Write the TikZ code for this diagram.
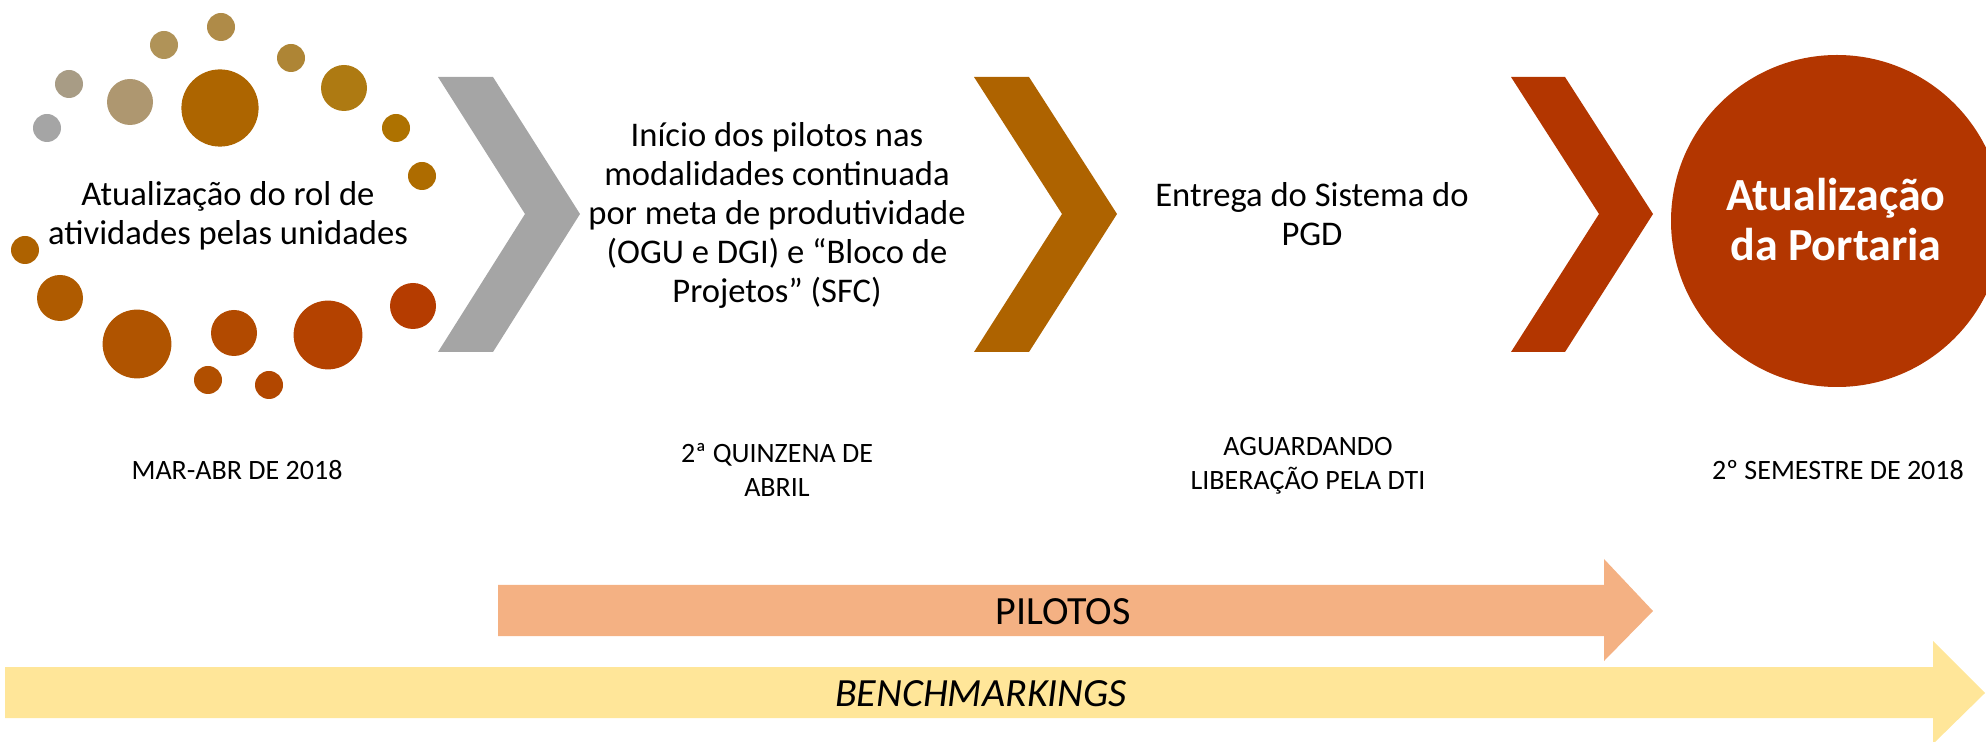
\documentclass[tikz,border=0pt]{standalone}
\usepackage{fontspec}
\setmainfont{Carlito}
\definecolor{cgrey}{HTML}{A5A5A5}
\definecolor{cbrown}{HTML}{AE6300}
\definecolor{cred}{HTML}{B33600}
\definecolor{cpil}{HTML}{F4B183}
\definecolor{cben}{HTML}{FFE699}
\definecolor{d1}{HTML}{A5A5A5}
\definecolor{d2}{HTML}{A89C85}
\definecolor{d3}{HTML}{AE9770}
\definecolor{d4}{HTML}{B09358}
\definecolor{d5}{HTML}{AF8B48}
\definecolor{d6}{HTML}{AD6500}
\definecolor{d7}{HTML}{AE8535}
\definecolor{d8}{HTML}{AE7A12}
\definecolor{d9}{HTML}{AE7200}
\definecolor{d10}{HTML}{AE6C00}
\definecolor{d11}{HTML}{AE6200}
\definecolor{d12}{HTML}{AF5B00}
\definecolor{d13}{HTML}{B05400}
\definecolor{d14}{HTML}{B14F00}
\definecolor{d15}{HTML}{B24A00}
\definecolor{d16}{HTML}{B24700}
\definecolor{d17}{HTML}{B44200}
\definecolor{d18}{HTML}{B53C00}
\begin{document}
\begin{tikzpicture}[x=0.5pt,y=-0.5pt,
  maintext/.style={align=center,inner sep=0pt,text=black,font=\fontsize{17.3}{19.5}\selectfont},
  datetext/.style={align=center,inner sep=0pt,text=black,font=\fontsize{14}{17}\selectfont},
  bartext/.style={inner sep=0pt,text=black,font=\fontsize{20}{24}\selectfont},
  endtext/.style={align=center,inner sep=0pt,text=white,font=\fontsize{23}{25}\selectfont\bfseries}]
\useasboundingbox (0,0) rectangle (1986,742);
% dots
\fill[d1] (47,128) circle[radius=7pt];
\fill[d2] (69,84) circle[radius=7pt];
\fill[d3] (130,102) circle[radius=11.5pt];
\fill[d4] (164,45) circle[radius=7pt];
\fill[d5] (221,27) circle[radius=7pt];
\fill[d6] (220,108) circle[radius=19.3pt];
\fill[d7] (291,58) circle[radius=7pt];
\fill[d8] (344,88) circle[radius=11.5pt];
\fill[d9] (396,128) circle[radius=7pt];
\fill[d10] (422,176) circle[radius=7pt];
\fill[d11] (25,250) circle[radius=7pt];
\fill[d12] (60,298) circle[radius=11.5pt];
\fill[d13] (137,344) circle[radius=17.2pt];
\fill[d14] (208,380) circle[radius=7pt];
\fill[d15] (234,333) circle[radius=11.5pt];
\fill[d16] (269,385) circle[radius=7pt];
\fill[d17] (328,335) circle[radius=17.2pt];
\fill[d18] (413,306) circle[radius=11.5pt];
% chevrons
\fill[cgrey] (438,77) -- (493,77) -- (580,214) -- (493,352) -- (438,352) -- (525,214) -- cycle;
\fill[cbrown] (974,77) -- (1029,77) -- (1117,214) -- (1029,352) -- (974,352) -- (1062,214) -- cycle;
\fill[cred] (1511,77) -- (1565,77) -- (1653,214) -- (1565,352) -- (1511,352) -- (1599,214) -- cycle;
% final circle
\fill[cred] (1837,221) circle[radius=83pt];
% bars
\fill[cpil] (498,585) -- (1604,585) -- (1604,559) -- (1653,611) -- (1604,661) -- (1604,636) -- (498,636) -- cycle;
\fill[cben] (5,667) -- (1933,667) -- (1933,641) -- (1985,693) -- (1933,744) -- (1933,718) -- (5,718) -- cycle;
% texts
\node[maintext] (t1) at (228,216) {Atualização do rol de\\atividades pelas unidades};
\node[maintext] (t2) at (777,215) {Início dos pilotos nas\\modalidades continuada\\por meta de produtividade\\(OGU e DGI) e “Bloco de\\Projetos” (SFC)};
\node[maintext] (t3) at (1312,214) {Entrega do Sistema do\\PGD};
\node[endtext] (t4) at (1836,220) {Atualização\\da Portaria};
\node[datetext] (d1n) at (237,470) {MAR-ABR DE 2018};
\node[datetext] (d2n) at (777,470) {2ª QUINZENA DE\\ABRIL};
\node[datetext] (d3n) at (1308,466) {AGUARDANDO\\LIBERAÇÃO PELA DTI};
\node[datetext] (d4n) at (1838,470) {2º SEMESTRE DE 2018};
\node[bartext] (pil) at (1063,612) {PILOTOS};
\node[bartext,font=\fontsize{20}{24}\selectfont\itshape] (ben) at (981,694) {BENCHMARKINGS};
\end{tikzpicture}
\end{document}
